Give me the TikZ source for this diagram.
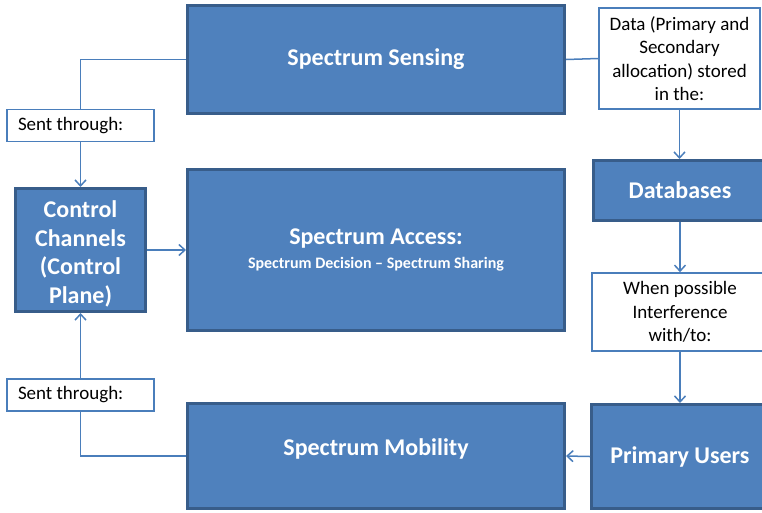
\documentclass[tikz,border=0pt]{standalone}
\usepackage{fontspec}
\setmainfont{Carlito}
\usetikzlibrary{arrows.meta}
\definecolor{boxfill}{HTML}{4F81BD}
\definecolor{boxline}{HTML}{385D8A}
\definecolor{conn}{HTML}{4A7EBB}
\tikzset{
  bluebox/.style={rectangle, fill=boxfill, draw=boxline, line width=3pt, inner sep=0pt,
    text=white, align=center, font=\fontsize{24}{28.5}\selectfont\bfseries},
  notebox/.style={rectangle, fill=white, draw=conn, line width=1.6pt, inner sep=0pt,
    text=black, align=center, font=\fontsize{19}{23.3}\selectfont},
  sentbox/.style={rectangle, fill=white, draw=conn, line width=1.6pt, inner ysep=0pt, inner xsep=11pt,
    text width=125pt, align=flush left, text=black, font=\fontsize{19}{23.3}\selectfont},
  link/.style={draw=conn, line width=1.5pt},
  arr/.style={link, -{Straight Barb[length=6pt,width=11pt,line width=1.5pt]}}
}
\begin{document}
\begin{tikzpicture}[x=1pt,y=-1pt]
\useasboundingbox (0,0) rectangle (762,512);
\clip (0,0) rectangle (762,512);
% blue boxes
\node[bluebox, minimum width=377pt, minimum height=108pt] (sense) at (376,59.5) {Spectrum Sensing};
\node[bluebox, minimum width=377pt, minimum height=161pt] (access) at (376,250)
  {Spectrum Access:\\[-4pt]{\fontsize{16}{19}\selectfont Spectrum Decision – Spectrum Sharing}};
\node[bluebox, minimum width=377pt, minimum height=105pt] (mob) at (376,456) {};
\node[text=white, font=\fontsize{24}{28.5}\selectfont\bfseries] (mobtext) at ([yshift=7pt]mob.center) {Spectrum Mobility};
\node[bluebox, minimum width=177pt, minimum height=104pt] (pu) at (680,456.5) {Primary Users};
\node[bluebox, minimum width=173pt, minimum height=60pt] (db) at (680,190.5) {Databases};
\node[bluebox, minimum width=130pt, minimum height=123pt] (ctrl) at (80.5,250)
  {\rule{0pt}{25pt}Control\\Channels\\(Control\\Plane)};
% note boxes
\node[notebox, minimum width=161pt, minimum height=101pt] (data) at (679.5,58.5)
  {Data (Primary and\\Secondary\\allocation) stored\\in the:};
\node[notebox, minimum width=176pt, minimum height=78pt] (when) at (680,312)
  {When possible\\Interference\\with/to:};
\node[sentbox, minimum height=32pt] (sent1) at (80.5,125.5) {Sent through:};
\node[sentbox, minimum height=32pt] (sent2) at (80.5,395) {Sent through:};
% connectors
\draw[link] (sense.west) -| (sent1.north);
\draw[arr] (sent1.south) -- (ctrl.north);
\draw[arr] (ctrl.east) -- (access.west);
\draw[link] (mob.west) -| (sent2.south);
\draw[arr] (sent2.north) -- (ctrl.south);
\draw[link] (sense.east) -- (data.west);
\draw[arr] (data.south) -- (data.south |- db.north);
\draw[arr] (db.south) -- (when.north);
\draw[arr] (when.south) -- (pu.north);
\draw[arr] (pu.west) -- (mob.east);
\end{tikzpicture}
\end{document}
